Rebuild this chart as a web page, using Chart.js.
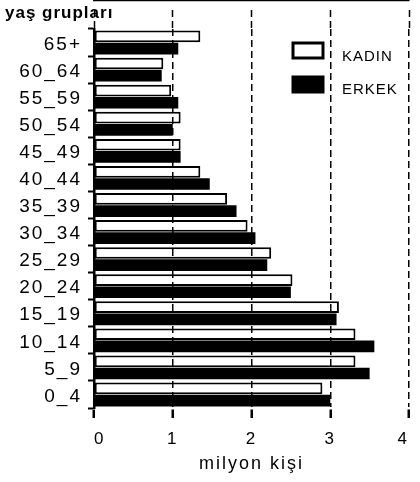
<!DOCTYPE html>
<html><head><meta charset="utf-8">
<script src="https://cdn.jsdelivr.net/npm/chart.js@4/dist/chart.umd.min.js"></script>
<style>html,body{margin:0;padding:0;background:#fff}#wrap{width:420px;height:482px}</style>
</head><body><div id="wrap"><canvas id="c" width="420" height="482"></canvas></div>
<script>
const categories = ["65+","60_64","55_59","50_54","45_49","40_44","35_39","30_34","25_29","20_24","15_19","10_14","5_9","0_4"];
const kadin = [1.35,0.88,0.98,1.10,1.10,1.35,1.69,1.95,2.25,2.52,3.11,3.32,3.32,2.90];
const erkek = [1.07,0.86,1.07,1.00,1.10,1.47,1.81,2.05,2.20,2.50,3.08,3.56,3.50,3.00];
const xTicks = [0,1,2,3,4];
const seriesNames = ["KADIN","ERKEK"];
const yTitle = "yaş grupları";
const xTitle = "milyon kişi";

const FONT = "'Liberation Sans', Arial, sans-serif";

const annot = {
  id: 'annot',
  beforeDraw(chart) {
    chart.ctx.letterSpacing = '2px';
  },
  afterDraw(chart) {
    const ctx = chart.ctx;
    ctx.save();
    ctx.letterSpacing = '1px';
    ctx.fillStyle = '#000';
    ctx.font = "bold 17px " + FONT;
    ctx.textAlign = 'left';
    ctx.textBaseline = 'alphabetic';
    ctx.fillText(yTitle, 5, 18);
    chart.data.datasets.forEach((ds, i) => {
      const bx = 293, by = 43 + i * 34, bw = 30, bh = 15;
      ctx.fillStyle = ds.backgroundColor;
      ctx.fillRect(bx, by, bw, bh);
      ctx.lineWidth = 3;
      ctx.strokeStyle = ds.borderColor;
      ctx.strokeRect(bx, by, bw, bh);
      ctx.fillStyle = '#000';
      ctx.font = "15px " + FONT;
      ctx.letterSpacing = '1px';
      ctx.fillText(ds.label, 342, 61 + i * 33);
    });
    ctx.restore();
  }
};

new Chart(document.getElementById('c'), {
  type: 'bar',
  data: {
    labels: categories,
    datasets: [
      { label: seriesNames[0], data: kadin, backgroundColor: '#fff', borderColor: '#000', borderWidth: 2, borderSkipped: false },
      { label: seriesNames[1], data: erkek, backgroundColor: '#000', borderColor: '#000', borderWidth: 0 }
    ]
  },
  options: {
    indexAxis: 'y',
    responsive: false,
    devicePixelRatio: 1,
    animation: false,
    layout: { padding: { left: 0, right: 7, top: 10, bottom: 0 } },
    datasets: { bar: { categoryPercentage: 0.9, barPercentage: 0.96 } },
    plugins: { legend: { display: false }, tooltip: { enabled: false }, title: { display: false } },
    scales: {
      x: {
        type: 'linear', position: 'bottom', min: xTicks[0], max: xTicks[xTicks.length - 1],
        afterBuildTicks(s) { s.ticks = xTicks.map(v => ({ value: v })); },
        afterFit(s) { s.height = 74; },
        grid: { z: 1, color: '#000', lineWidth: 1.5, drawTicks: true, tickLength: 10, tickColor: '#000', tickWidth: 2.5, tickBorderDash: [] },
        border: { display: true, color: '#000', width: 2.5, dash: [7, 4] },
        ticks: { color: '#000', font: { family: FONT, size: 17 }, padding: 11, align: 'inner' },
        title: { display: true, text: xTitle, color: '#000', font: { family: FONT, size: 18 }, padding: { top: 0, bottom: 7 } }
      },
      x2: {
        type: 'linear', axis: 'x', position: 'top', min: xTicks[0], max: xTicks[xTicks.length - 1],
        afterBuildTicks(s) { s.ticks = xTicks.map(v => ({ value: v })); },
        afterFit(s) { s.height = 19; },
        grid: { drawOnChartArea: false, drawTicks: true, tickLength: 19, tickColor: '#000', tickWidth: 1.5, tickBorderDash: [7, 4] },
        border: { display: false },
        ticks: { display: false, align: 'inner' }
      },
      y: {
        type: 'category',
        afterFit(s) { s.width = 94; },
        grid: { drawOnChartArea: false, drawTicks: true, tickLength: 6, tickColor: '#000', tickWidth: 2 },
        border: { display: true, color: '#000', width: 2.5 },
        ticks: { color: '#000', font: { family: FONT, size: 19 }, padding: 6, labelOffset: 2, autoSkip: false }
      }
    }
  },
  plugins: [annot]
});
</script>
</body></html>
